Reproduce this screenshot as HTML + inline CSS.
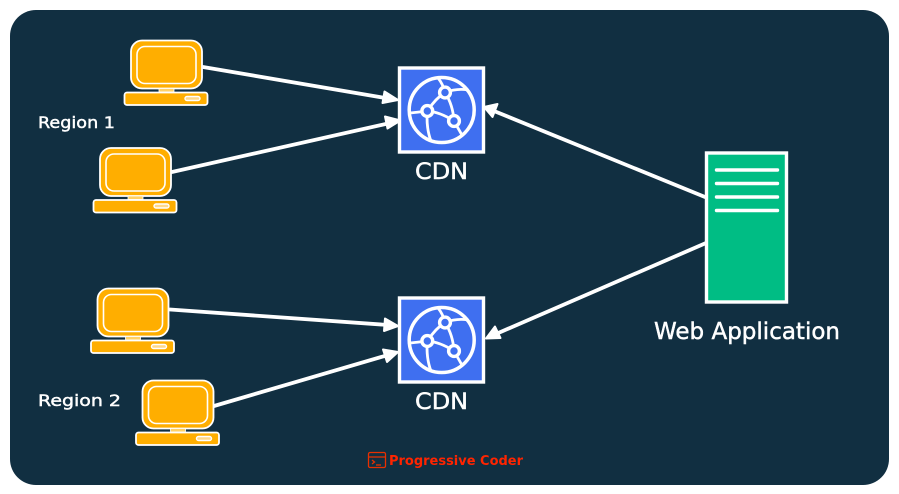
<!DOCTYPE html>
<html>
<head>
<meta charset="utf-8">
<style>
html,body{margin:0;padding:0;background:#fff;width:899px;height:494px;overflow:hidden}
svg{display:block}
.t{font-family:"DejaVu Sans","Liberation Sans",sans-serif;fill:#fff;stroke:#fff;stroke-width:.45}
</style>
</head>
<body>
<svg width="899" height="494" viewBox="0 0 899 494" xmlns="http://www.w3.org/2000/svg">
<defs>
<g id="pc">
<rect x="131" y="40.500" width="71" height="48" rx="11" fill="#ffae00" stroke="#fff" stroke-width="1.800"/>
<rect x="137" y="46.500" width="59" height="37" rx="8" fill="#ffae00" stroke="#fff" stroke-width="1.600"/>
<rect x="159" y="88.500" width="15" height="3.500" fill="#ffd166" stroke="#fff" stroke-width=".8"/>
<rect x="124.500" y="92.500" width="83" height="12.500" rx="2.500" fill="#ffae00" stroke="#fff" stroke-width="1.800"/>
<rect x="185" y="96.500" width="15" height="4" rx="2" fill="#ffd98a" stroke="#fff" stroke-width="1.400"/>
</g>
<g id="cdn">
<rect x="399.500" y="68" width="84" height="84" fill="#3f6ff0" stroke="#fff" stroke-width="3.400"/>
<g fill="none" stroke="#fff" stroke-width="2.800">
<circle cx="441.700" cy="110" r="32.500" stroke-width="3.500"/>
<path d="M445 92.500 Q436 98 427.300 111"/>
<path d="M427.300 111 Q440 112 454 121"/>
<path d="M445 92.500 Q453 105 454 121"/>
<path d="M427.300 111 Q411 113 409 113"/>
<path d="M427.300 111 Q426 128 431 141"/>
<path d="M445 92.500 Q443 84 438 78"/>
<path d="M445 92.500 Q457 88 468 90"/>
<path d="M454 121 Q459 130 462 135"/>
</g>
<g fill="#3f6ff0" stroke="#fff" stroke-width="3.400">
<circle cx="445" cy="92.500" r="5.400"/>
<circle cx="427.300" cy="111" r="5.400"/>
<circle cx="454" cy="121" r="5.400"/>
</g>
</g>
</defs>

<rect x="10" y="10" width="879" height="475" rx="26" fill="#112f41"/>

<g stroke="#fff" stroke-width="3.800" fill="none" stroke-linecap="round">
<line x1="203" y1="67" x2="388" y2="98.500"/>
<line x1="172" y1="172" x2="390" y2="123"/>
<line x1="705" y1="197" x2="494" y2="111"/>
<line x1="706" y1="243" x2="496" y2="334"/>
<line x1="170" y1="309.500" x2="388" y2="325"/>
<line x1="214" y1="406" x2="388" y2="355"/>
</g>
<g fill="#fff" stroke="#fff" stroke-width="2" stroke-linejoin="round">
<polygon points="398,100 384.500,91.500 382.500,103"/>
<polygon points="400.500,120.500 385,116.500 387.500,128.500"/>
<polygon points="484,107 497.500,104 492.500,117"/>
<polygon points="486,338.500 495,326.500 500.500,338"/>
<polygon points="398,326 385,318.500 384,331"/>
<polygon points="398,352 383,349.500 387,362"/>
</g>

<use href="#pc"/>
<use href="#pc" x="-31" y="107.500"/>
<use href="#pc" x="-33.500" y="248"/>
<use href="#pc" x="11.500" y="340"/>

<use href="#cdn"/>
<use href="#cdn" y="230"/>

<rect x="706.500" y="153" width="80" height="149" fill="#00bd84" stroke="#fff" stroke-width="3.400"/>
<g stroke="#fff" stroke-width="3.400" stroke-linecap="round">
<line x1="716.500" y1="170" x2="777.500" y2="170"/>
<line x1="716.500" y1="183.500" x2="777.500" y2="183.500"/>
<line x1="716.500" y1="197" x2="777.500" y2="197"/>
<line x1="716.500" y1="210.500" x2="777.500" y2="210.500"/>
</g>

<text class="t" x="38" y="128" font-size="16" textLength="77" lengthAdjust="spacingAndGlyphs">Region 1</text>
<text class="t" x="38" y="406" font-size="16" textLength="83" lengthAdjust="spacingAndGlyphs">Region 2</text>
<text class="t" x="415" y="179" font-size="22" textLength="53" lengthAdjust="spacingAndGlyphs">CDN</text>
<text class="t" x="415" y="409" font-size="22" textLength="53" lengthAdjust="spacingAndGlyphs">CDN</text>
<text class="t" x="654" y="339" font-size="23" textLength="186" lengthAdjust="spacingAndGlyphs">Web Application</text>

<g fill="none" stroke="#e83000" stroke-width="1.300">
<rect x="368.500" y="452.500" width="17" height="15" rx="1.500"/>
<line x1="368.500" y1="457" x2="385.500" y2="457"/>
<path d="M372 460 L374.500 462 L372 464"/>
<line x1="376" y1="465" x2="381" y2="465"/>
</g>
<text x="389" y="465" font-family="'DejaVu Sans','Liberation Sans',sans-serif" font-weight="700" font-size="13.500" fill="#ff2400" textLength="134" lengthAdjust="spacingAndGlyphs">Progressive Coder</text>
</svg>
</body>
</html>
